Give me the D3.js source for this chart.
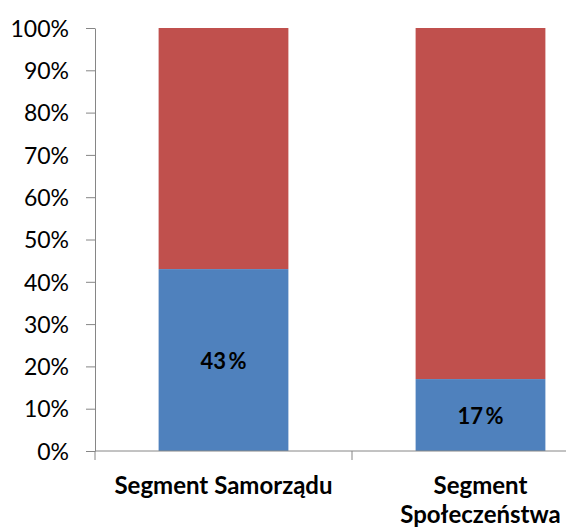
<!doctype html>
<html lang="pl">
<head>
  <meta charset="utf-8">
  <title>Segmenty</title>
  <script src="https://cdn.jsdelivr.net/npm/d3@7"></script>
  <style>
    body { margin: 0; background: #fff; }
    text { font-family: Lato, "Open Sans", sans-serif; fill: #000; }
  </style>
</head>
<body>
  <div id="container"></div>
<script>
  // data
  const categories = ['Segment Samorządu', 'Segment Społeczeństwa'];
  const categoryLines = [['Segment Samorządu'], ['Segment', 'Społeczeństwa']];
  const blueValues = [43, 17];
  const redValues = [57, 83];
  const blueLabels = ['43 %', '17 %'];
  const yTicks = [0, 10, 20, 30, 40, 50, 60, 70, 80, 90, 100];

  const width = 566, height = 529;
  const x0 = 95, x1 = 609, yTop = 28, yBottom = 451;

  const svg = d3.select('#container')
    .append('svg')
    .attr('width', width)
    .attr('height', height);

  const x = d3.scaleBand()
    .domain(categories)
    .range([x0, x1])
    .paddingInner(0.495)
    .paddingOuter(0.2475);

  const y = d3.scaleLinear().domain([0, 100]).range([yBottom, yTop]);

  // stacked bars
  const stack = categories.map((c, i) => ({ c, i, blue: blueValues[i], red: redValues[i] }));

  svg.append('g').selectAll('rect.red')
    .data(stack)
    .enter()
    .append('rect')
    .attr('x', d => x(d.c))
    .attr('width', x.bandwidth())
    .attr('y', d => y(d.blue + d.red))
    .attr('height', d => y(d.blue) - y(d.blue + d.red))
    .style('fill', '#C0504D');

  svg.append('g').selectAll('rect.blue')
    .data(stack)
    .enter()
    .append('rect')
    .attr('x', d => x(d.c))
    .attr('width', x.bandwidth())
    .attr('y', d => y(d.blue))
    .attr('height', d => y(0) - y(d.blue))
    .style('fill', '#4F81BD');

  // value labels
  svg.append('g').selectAll('text')
    .data(stack)
    .enter()
    .append('text')
    .attr('x', d => x(d.c) + x.bandwidth() / 2)
    .attr('y', d => (y(0) + y(d.blue)) / 2 + 9)
    .attr('text-anchor', 'middle')
    .style('font-size', '22px')
    .style('font-weight', 'bold')
    .style('word-spacing', '-3px')
    .text(d => blueLabels[d.i]);

  // y axis
  const yAxis = d3.axisLeft(y)
    .tickValues(yTicks)
    .tickFormat(d => d + '%')
    .tickSizeInner(9)
    .tickSizeOuter(0)
    .tickPadding(17);

  const gy = svg.append('g')
    .attr('transform', `translate(${x0},0)`)
    .call(yAxis);
  gy.selectAll('line, path').style('stroke', '#868686');
  gy.selectAll('text').style('font-size', '23px').style('font-family', 'Lato, sans-serif').attr('dy', '0.36em');

  // x axis
  const gx = svg.append('g').attr('transform', `translate(0,${yBottom})`);
  gx.append('line')
    .attr('x1', x0).attr('x2', x1)
    .style('stroke', '#868686');
  const step = x.step();
  [x0, x0 + step, x1].forEach(v => {
    gx.append('line')
      .attr('x1', v).attr('x2', v)
      .attr('y1', 0).attr('y2', 9)
      .style('stroke', '#868686');
  });

  gx.selectAll('text.cat')
    .data(categories)
    .enter()
    .append('text')
    .attr('text-anchor', 'middle')
    .attr('x', d => x(d) + x.bandwidth() / 2)
    .attr('y', 43)
    .style('font-size', '24px')
    .style('font-weight', 'bold')
    .each(function(d, i) {
      const t = d3.select(this);
      categoryLines[i].forEach((line, j) => {
        t.append('tspan')
          .attr('x', x(d) + x.bandwidth() / 2)
          .attr('dy', j === 0 ? 0 : 29)
          .text(line);
      });
    });
</script>
</body>
</html>
